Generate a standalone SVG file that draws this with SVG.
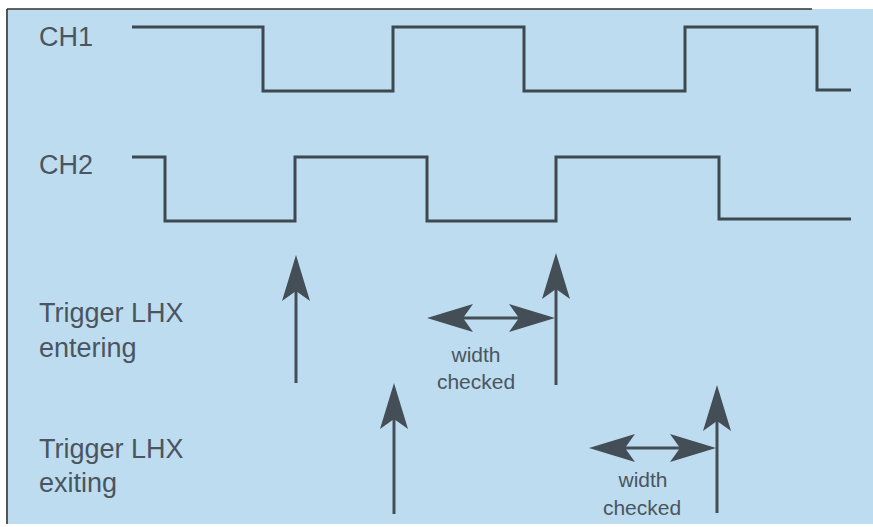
<svg xmlns="http://www.w3.org/2000/svg" width="873" height="527" viewBox="0 0 873 527">
<style>
.bg{fill:#bddcef}
.wave{fill:none;stroke:#3e4850;stroke-width:3;stroke-linejoin:miter}
.arr{fill:none;stroke:#444e56;stroke-width:3}
.lbl{font-family:"Liberation Sans",Arial,sans-serif;font-size:27px;fill:#4a5560}
.sm{font-family:"Liberation Sans",Arial,sans-serif;font-size:21px;fill:#4a5560;text-anchor:middle}
</style>
<defs>
<marker id="ah" markerUnits="userSpaceOnUse" orient="auto-start-reverse" refX="0" refY="0" overflow="visible" markerWidth="1" markerHeight="1">
<path d="M36,0 L-10,-14 L0,0 L-10,14 Z" fill="#444e56"/>
</marker>
</defs>
<rect x="0" y="0" width="873" height="527" fill="#ffffff"/>
<rect class="bg" x="8" y="9" width="865" height="515"/>
<line x1="7" y1="9" x2="7" y2="524" stroke="#555" stroke-width="2"/>
<line x1="7" y1="9" x2="812" y2="9" stroke="#333" stroke-width="1.5"/>
<g id="ch1">
<text class="lbl" x="39" y="46">CH1</text>
<polyline class="wave" points="132,27 263,27 263,91 393,91 393,27 524,27 524,91 685,91 685,27 817,27 817,90 851,90"/>
</g>
<g id="ch2">
<text class="lbl" x="39" y="174">CH2</text>
<polyline class="wave" points="132,157 165,157 165,221 295,221 295,157 427,157 427,221 556,221 556,157 719,157 719,219 851,219"/>
</g>
<g id="entering">
<text class="lbl" x="39" y="322">Trigger LHX</text>
<text class="lbl" x="39" y="357">entering</text>
</g>
<g id="exiting">
<text class="lbl" x="39" y="458">Trigger LHX</text>
<text class="lbl" x="39" y="492">exiting</text>
</g>
<g id="width1">
<text class="sm" x="476" y="362">width</text>
<text class="sm" x="476" y="389">checked</text>
</g>
<g id="width2">
<text class="sm" x="643" y="487">width</text>
<text class="sm" x="642" y="515">checked</text>
</g>
<g id="connectors">
<line class="arr" x1="296" y1="383" x2="296" y2="291" marker-end="url(#ah)"/>
<line class="arr" x1="556" y1="385" x2="556" y2="289" marker-end="url(#ah)"/>
<line class="arr" x1="463" y1="318" x2="519" y2="318" marker-start="url(#ah)" marker-end="url(#ah)"/>
<line class="arr" x1="394" y1="514" x2="394" y2="419" marker-end="url(#ah)"/>
<line class="arr" x1="717" y1="513" x2="717" y2="421" marker-end="url(#ah)"/>
<line class="arr" x1="625" y1="448" x2="680" y2="448" marker-start="url(#ah)" marker-end="url(#ah)"/>
</g>
</svg>
